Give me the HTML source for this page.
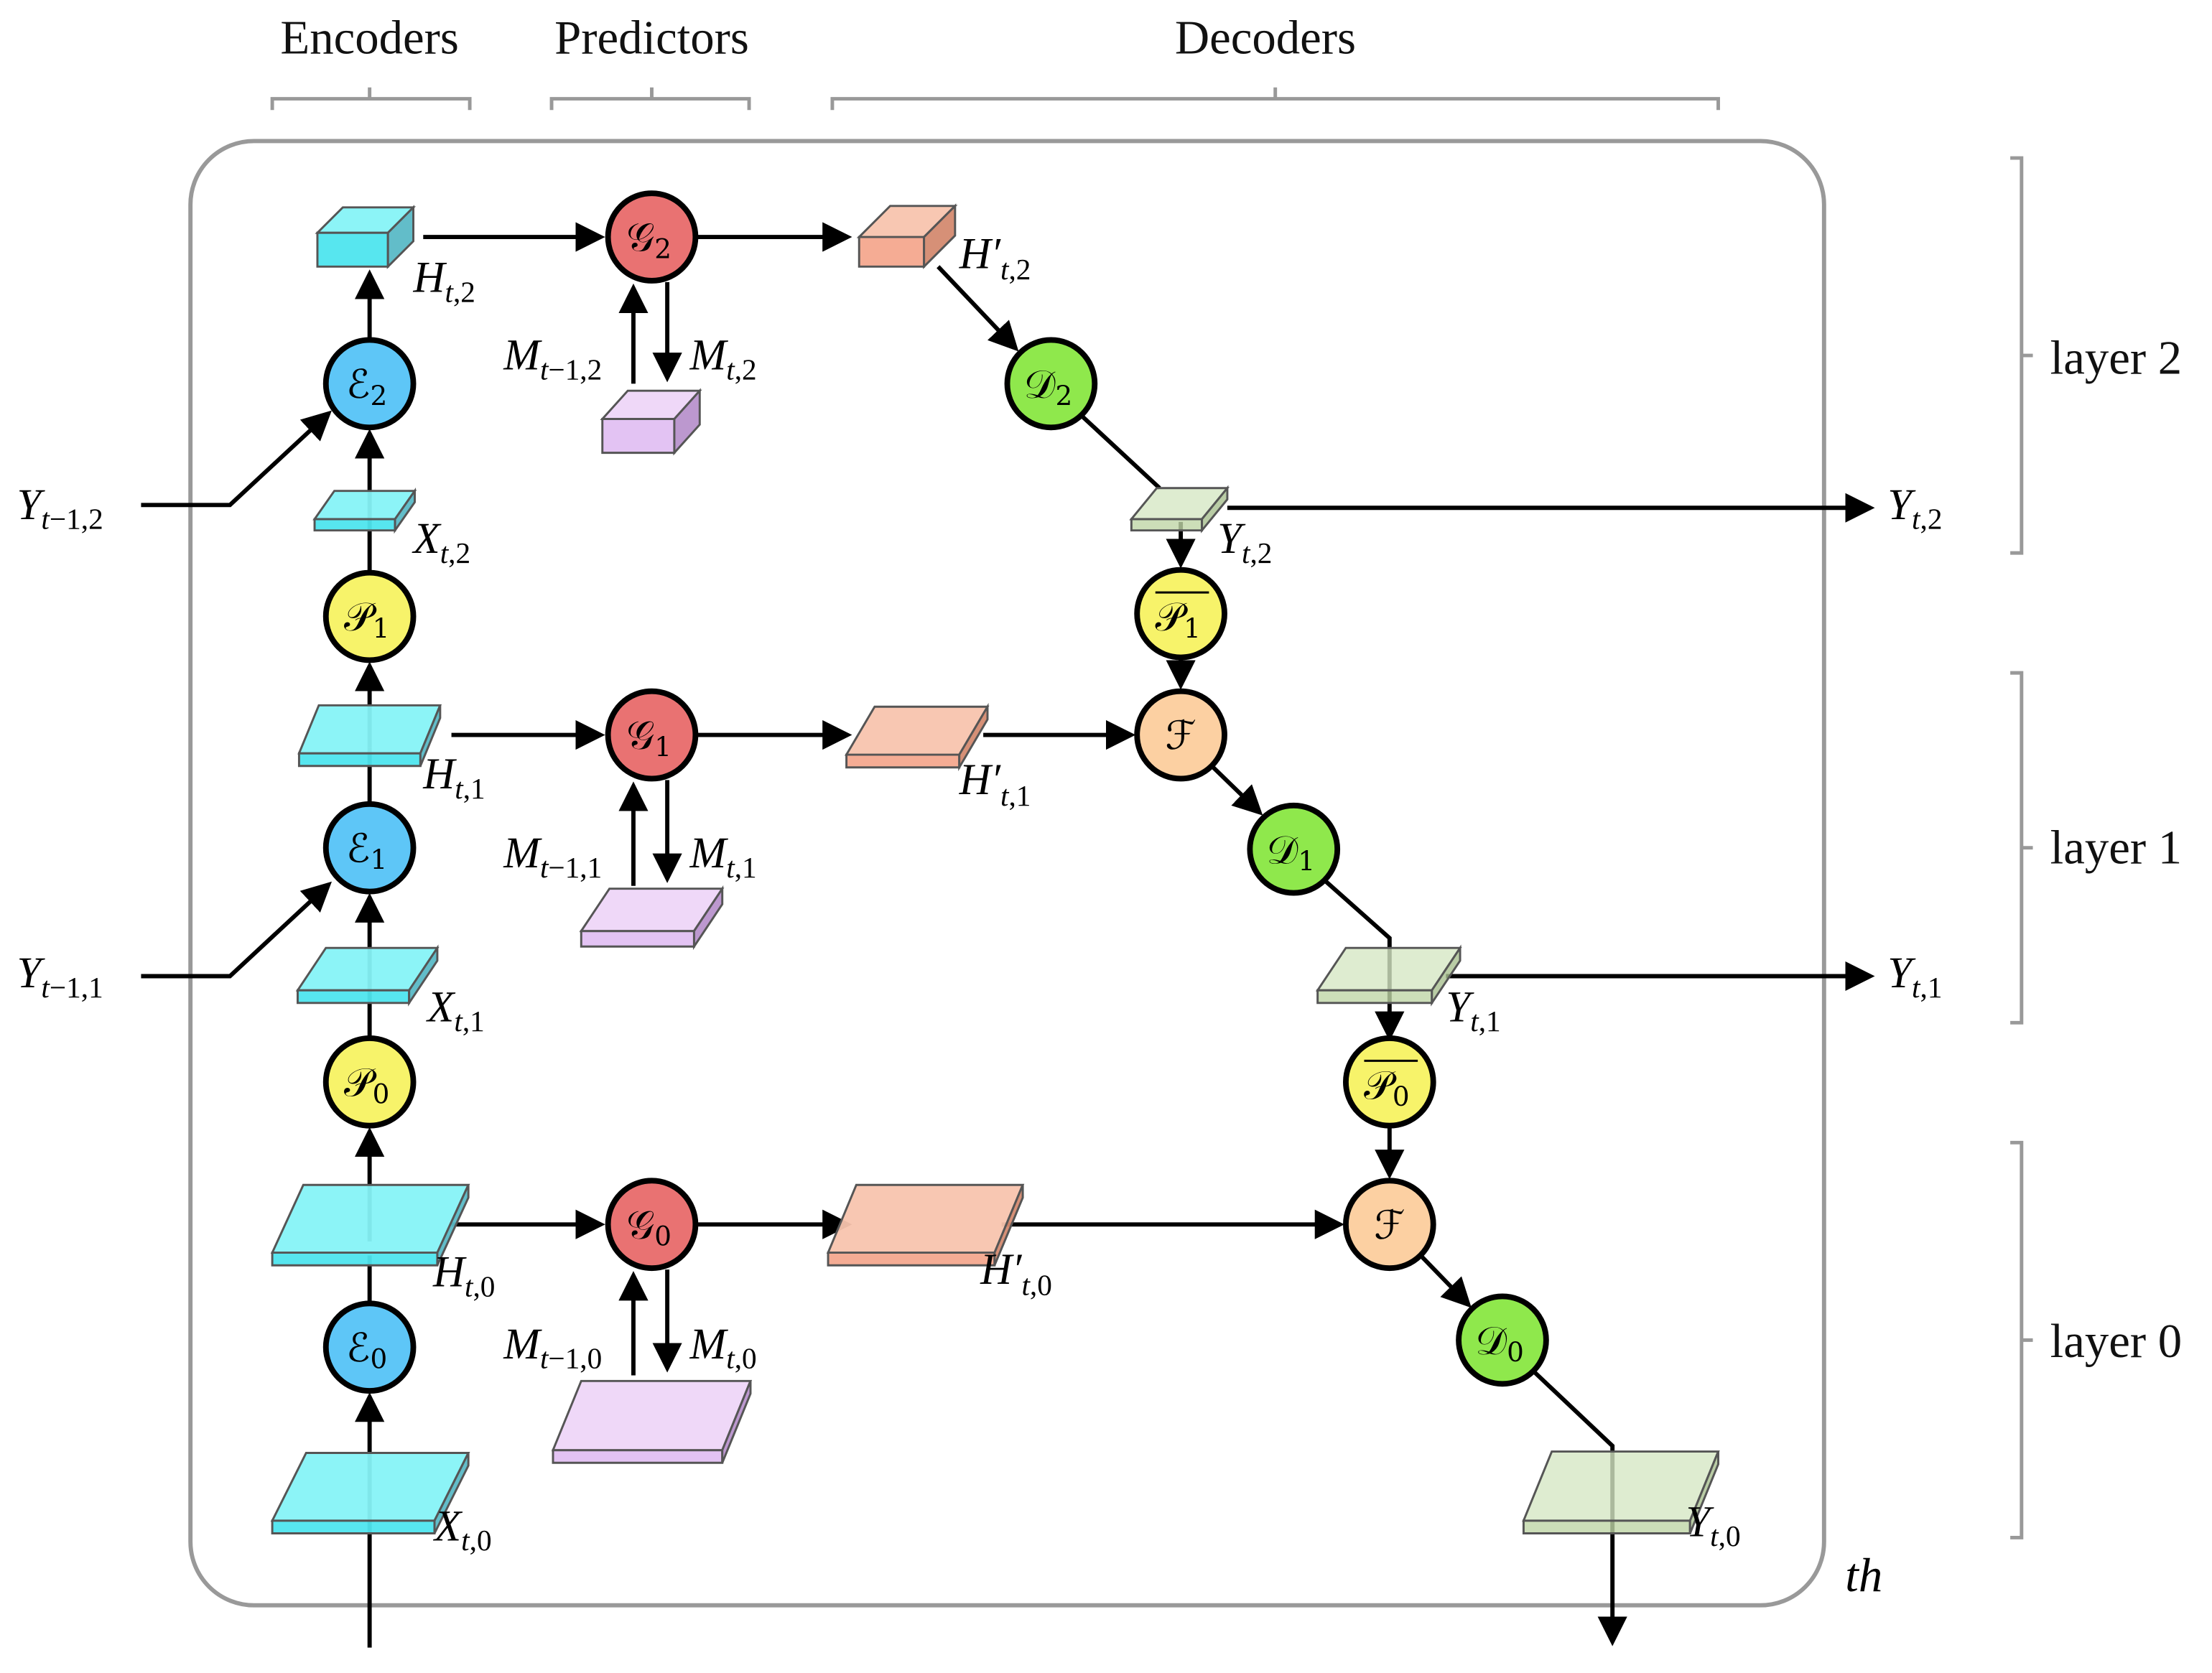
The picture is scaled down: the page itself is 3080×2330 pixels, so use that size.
<!DOCTYPE html>
<html><head><meta charset="utf-8"><style>
html,body{margin:0;padding:0;background:#fff;}
svg{display:block;}
.m{font-family:"Liberation Serif","DejaVu Serif",serif;font-style:italic;font-size:31px;fill:#000;}
.s{font-size:21px;}
.u{font-style:normal;}
.c{font-family:"DejaVu Serif","Liberation Serif",serif;font-size:28px;text-anchor:middle;fill:#000;}
.c .s{font-style:normal;font-size:19px;}
.h{font-family:"Liberation Serif","DejaVu Serif",serif;font-size:34px;fill:#111;text-anchor:middle;}
.ln{stroke:#000;stroke-width:3;fill:none;}
.cy polygon{stroke:#555;stroke-width:1.5;}
</style></head><body>
<svg width="3080" height="2330" viewBox="0 0 1568 1186" preserveAspectRatio="none" xmlns="http://www.w3.org/2000/svg">
<defs>
<marker id="a" markerWidth="7" markerHeight="7" refX="6" refY="3.5" orient="auto" markerUnits="strokeWidth">
<path d="M0,0 L7,3.5 L0,7 z" fill="#000"/></marker>
</defs>
<text class="h" x="262" y="38">Encoders</text>
<text class="h" x="462" y="38">Predictors</text>
<text class="h" x="897" y="38">Decoders</text>
<g stroke="#999" stroke-width="2.5" fill="none">
<path d="M193,78 V70 H333 V78 M262,70 V62"/>
<path d="M391,78 V70 H531 V78 M462,70 V62"/>
<path d="M590,78 V70 H1218 V78 M904,70 V62"/>
<rect x="135" y="100" width="1158" height="1038" rx="45" stroke-width="3"/>
<path d="M1425,112 H1433 V392 H1425 M1433,252 H1441"/>
<path d="M1425,477 H1433 V725 H1425 M1433,601 H1441"/>
<path d="M1425,810 H1433 V1090 H1425 M1433,950 H1441"/>
</g>
<text class="h" x="1500" y="265">layer 2</text>
<text class="h" x="1500" y="612">layer 1</text>
<text class="h" x="1500" y="962">layer 0</text>

<g class="ln">
<line x1="262" y1="1168" x2="262" y2="990" marker-end="url(#a)"/>
<line x1="262" y1="924" x2="262" y2="890"/>
<line x1="262" y1="880" x2="262" y2="802" marker-end="url(#a)"/>
<line x1="262" y1="736" x2="262" y2="700"/>
<line x1="262" y1="700" x2="262" y2="636" marker-end="url(#a)"/>
<line x1="262" y1="570" x2="262" y2="530"/>
<line x1="262" y1="530" x2="262" y2="472" marker-end="url(#a)"/>
<line x1="262" y1="406" x2="262" y2="366"/>
<line x1="262" y1="366" x2="262" y2="307" marker-end="url(#a)"/>
<line x1="262" y1="241" x2="262" y2="194" marker-end="url(#a)"/>
<polyline points="100,358 163,358 233,293" marker-end="url(#a)"/>
<polyline points="100,692 163,692 233,627" marker-end="url(#a)"/>
<line x1="300" y1="168" x2="426" y2="168" marker-end="url(#a)"/>
<line x1="494" y1="168" x2="601" y2="168" marker-end="url(#a)"/>
<line x1="665" y1="189" x2="720" y2="247" marker-end="url(#a)"/>
<polyline points="767,295 822,346"/>
<line x1="870" y1="360" x2="1326" y2="360" marker-end="url(#a)"/>
<line x1="837" y1="370" x2="837" y2="400" marker-end="url(#a)"/>
<line x1="837" y1="467" x2="837" y2="486" marker-end="url(#a)"/>
<line x1="449" y1="272" x2="449" y2="204" marker-end="url(#a)"/>
<line x1="473" y1="200" x2="473" y2="268" marker-end="url(#a)"/>
<line x1="320" y1="521" x2="426" y2="521" marker-end="url(#a)"/>
<line x1="494" y1="521" x2="601" y2="521" marker-end="url(#a)"/>
<line x1="697" y1="521" x2="802" y2="521" marker-end="url(#a)"/>
<line x1="860" y1="544" x2="893" y2="576" marker-end="url(#a)"/>
<polyline points="940,625 985,665 985,735" marker-end="url(#a)"/>
<line x1="1025" y1="692" x2="1326" y2="692" marker-end="url(#a)"/>
<line x1="985" y1="799" x2="985" y2="833" marker-end="url(#a)"/>
<line x1="449" y1="628" x2="449" y2="557" marker-end="url(#a)"/>
<line x1="473" y1="553" x2="473" y2="623" marker-end="url(#a)"/>
<line x1="320" y1="868" x2="426" y2="868" marker-end="url(#a)"/>
<line x1="494" y1="868" x2="601" y2="868" marker-end="url(#a)"/>
<line x1="710" y1="868" x2="950" y2="868" marker-end="url(#a)"/>
<line x1="1008" y1="891" x2="1041" y2="925" marker-end="url(#a)"/>
<polyline points="1088,973 1143,1025 1143,1164" marker-end="url(#a)"/>
<line x1="449" y1="975" x2="449" y2="904" marker-end="url(#a)"/>
<line x1="473" y1="900" x2="473" y2="970" marker-end="url(#a)"/>
</g>

<g class="cy">
<g fill-opacity="0.95">
<polygon fill="#4ee5ee" points="225,165 275,165 275,189 225,189"/><polygon fill="#86f3f7" points="225,165 243,147 293,147 275,165"/><polygon fill="#5ab9c6" points="275,165 293,147 293,171 275,189"/>
<polygon fill="#4ee5ee" points="223,368 280,368 280,376 223,376"/><polygon fill="#86f3f7" points="223,368 237,348 294,348 280,368"/><polygon fill="#5ab9c6" points="280,368 294,348 294,356 280,376"/>
<polygon fill="#4ee5ee" points="212,534 298,534 298,543 212,543"/><polygon fill="#86f3f7" points="212,534 226,500 312,500 298,534"/><polygon fill="#5ab9c6" points="298,534 312,500 312,509 298,543"/>
<polygon fill="#4ee5ee" points="211,702 290,702 290,711 211,711"/><polygon fill="#86f3f7" points="211,702 231,672 310,672 290,702"/><polygon fill="#5ab9c6" points="290,702 310,672 310,681 290,711"/>
<polygon fill="#4ee5ee" points="193,888 310,888 310,897 193,897"/><polygon fill="#86f3f7" points="193,888 215,840 332,840 310,888"/><polygon fill="#5ab9c6" points="310,888 332,840 332,849 310,897"/>
<polygon fill="#4ee5ee" points="193,1078 308,1078 308,1087 193,1087"/><polygon fill="#86f3f7" points="193,1078 217,1030 332,1030 308,1078"/><polygon fill="#5ab9c6" points="308,1078 332,1030 332,1039 308,1087"/>
<polygon fill="#e2c0f2" points="427,297 478,297 478,321 427,321"/><polygon fill="#eed6f8" points="427,297 445,277 496,277 478,297"/><polygon fill="#b892cc" points="478,297 496,277 496,301 478,321"/>
<polygon fill="#e2c0f2" points="412,660 492,660 492,671 412,671"/><polygon fill="#eed6f8" points="412,660 432,630 512,630 492,660"/><polygon fill="#b892cc" points="492,660 512,630 512,641 492,671"/>
<polygon fill="#e2c0f2" points="392,1028 512,1028 512,1037 392,1037"/><polygon fill="#eed6f8" points="392,1028 412,979 532,979 512,1028"/><polygon fill="#b892cc" points="512,1028 532,979 532,988 512,1037"/>
<polygon fill="#f4a88e" points="609,168 655,168 655,189 609,189"/><polygon fill="#f8c4ae" points="609,168 631,146 677,146 655,168"/><polygon fill="#d48a70" points="655,168 677,146 677,167 655,189"/>
<polygon fill="#f4a88e" points="600,535 680,535 680,544 600,544"/><polygon fill="#f8c4ae" points="600,535 620,501 700,501 680,535"/><polygon fill="#d48a70" points="680,535 700,501 700,510 680,544"/>
<polygon fill="#f4a88e" points="587,888 705,888 705,897 587,897"/><polygon fill="#f8c4ae" points="587,888 607,840 725,840 705,888"/><polygon fill="#d48a70" points="705,888 725,840 725,849 705,897"/>
</g>
<g fill-opacity="0.8">
<polygon fill="#bfd6a6" points="802,368 852,368 852,376 802,376"/><polygon fill="#d6e7c4" points="802,368 820,346 870,346 852,368"/><polygon fill="#a8bf8e" points="852,368 870,346 870,354 852,376"/>
<polygon fill="#bfd6a6" points="934,702 1015,702 1015,711 934,711"/><polygon fill="#d6e7c4" points="934,702 954,672 1035,672 1015,702"/><polygon fill="#a8bf8e" points="1015,702 1035,672 1035,681 1015,711"/>
<polygon fill="#bfd6a6" points="1080,1078 1198,1078 1198,1087 1080,1087"/><polygon fill="#d6e7c4" points="1080,1078 1100,1029 1218,1029 1198,1078"/><polygon fill="#a8bf8e" points="1198,1078 1218,1029 1218,1038 1198,1087"/>
</g>
</g>

<g stroke="#000" stroke-width="4">
<circle cx="262" cy="272" r="31" fill="#5ec6f7"/>
<circle cx="262" cy="437" r="31" fill="#f7f36a"/>
<circle cx="262" cy="601" r="31" fill="#5ec6f7"/>
<circle cx="262" cy="767" r="31" fill="#f7f36a"/>
<circle cx="262" cy="955" r="31" fill="#5ec6f7"/>
<circle cx="462" cy="168" r="31" fill="#e97272"/>
<circle cx="462" cy="521" r="31" fill="#e97272"/>
<circle cx="462" cy="868" r="31" fill="#e97272"/>
<circle cx="745" cy="272" r="31" fill="#8fe84c"/>
<circle cx="837" cy="435" r="31" fill="#f7f36a"/>
<circle cx="837" cy="521" r="31" fill="#fcd0a2"/>
<circle cx="917" cy="602" r="31" fill="#8fe84c"/>
<circle cx="985" cy="767" r="31" fill="#f7f36a"/>
<circle cx="985" cy="868" r="31" fill="#fcd0a2"/>
<circle cx="1065" cy="950" r="31" fill="#8fe84c"/>
</g>
<g class="c">
<text x="260" y="282">ℰ<tspan class="s" dy="5">2</tspan></text>
<text x="260" y="447">𝒫<tspan class="s" dy="5">1</tspan></text>
<text x="260" y="611">ℰ<tspan class="s" dy="5">1</tspan></text>
<text x="260" y="777">𝒫<tspan class="s" dy="5">0</tspan></text>
<text x="260" y="965">ℰ<tspan class="s" dy="5">0</tspan></text>
<text x="460" y="178">𝒢<tspan class="s" dy="5">2</tspan></text>
<text x="460" y="531">𝒢<tspan class="s" dy="5">1</tspan></text>
<text x="460" y="878">𝒢<tspan class="s" dy="5">0</tspan></text>
<text x="743" y="282">𝒟<tspan class="s" dy="5">2</tspan></text>
<text x="835" y="447">𝒫<tspan class="s" dy="5">1</tspan></text>
<text x="837" y="531">ℱ</text>
<text x="915" y="612">𝒟<tspan class="s" dy="5">1</tspan></text>
<text x="983" y="779">𝒫<tspan class="s" dy="5">0</tspan></text>
<text x="985" y="878">ℱ</text>
<text x="1063" y="960">𝒟<tspan class="s" dy="5">0</tspan></text>
</g>
<line x1="819" y1="420" x2="857" y2="420" stroke="#000" stroke-width="1.5"/>
<line x1="967" y1="752" x2="1005" y2="752" stroke="#000" stroke-width="1.5"/>

<g class="m">
<text x="293" y="207">H<tspan class="s" dy="7">t<tspan class="u">,2</tspan></tspan></text>
<text x="293" y="392">X<tspan class="s" dy="7">t<tspan class="u">,2</tspan></tspan></text>
<text x="300" y="559">H<tspan class="s" dy="7">t<tspan class="u">,1</tspan></tspan></text>
<text x="303" y="724">X<tspan class="s" dy="7">t<tspan class="u">,1</tspan></tspan></text>
<text x="307" y="912">H<tspan class="s" dy="7">t<tspan class="u">,0</tspan></tspan></text>
<text x="308" y="1092">X<tspan class="s" dy="7">t<tspan class="u">,0</tspan></tspan></text>
<text x="357" y="262">M<tspan class="s" dy="7">t<tspan class="u">−1,2</tspan></tspan></text>
<text x="489" y="262">M<tspan class="s" dy="7">t<tspan class="u">,2</tspan></tspan></text>
<text x="357" y="615">M<tspan class="s" dy="7">t<tspan class="u">−1,1</tspan></tspan></text>
<text x="489" y="615">M<tspan class="s" dy="7">t<tspan class="u">,1</tspan></tspan></text>
<text x="357" y="963">M<tspan class="s" dy="7">t<tspan class="u">−1,0</tspan></tspan></text>
<text x="489" y="963">M<tspan class="s" dy="7">t<tspan class="u">,0</tspan></tspan></text>
<text x="680" y="190">H′<tspan class="s" dy="8">t<tspan class="u">,2</tspan></tspan></text>
<text x="680" y="563">H′<tspan class="s" dy="8">t<tspan class="u">,1</tspan></tspan></text>
<text x="695" y="910">H′<tspan class="s" dy="8">t<tspan class="u">,0</tspan></tspan></text>
<text x="863" y="392">Y<tspan class="s" dy="7">t<tspan class="u">,2</tspan></tspan></text>
<text x="1025" y="724">Y<tspan class="s" dy="7">t<tspan class="u">,1</tspan></tspan></text>
<text x="1195" y="1089">Y<tspan class="s" dy="7">t<tspan class="u">,0</tspan></tspan></text>
<text x="12" y="368">Y<tspan class="s" dy="7">t<tspan class="u">−1,2</tspan></tspan></text>
<text x="12" y="700">Y<tspan class="s" dy="7">t<tspan class="u">−1,1</tspan></tspan></text>
<text x="1338" y="368">Y<tspan class="s" dy="7">t<tspan class="u">,2</tspan></tspan></text>
<text x="1338" y="700">Y<tspan class="s" dy="7">t<tspan class="u">,1</tspan></tspan></text>
<text x="1308" y="1128" style="font-size:34px">th</text>
</g>
</svg>
</body></html>
